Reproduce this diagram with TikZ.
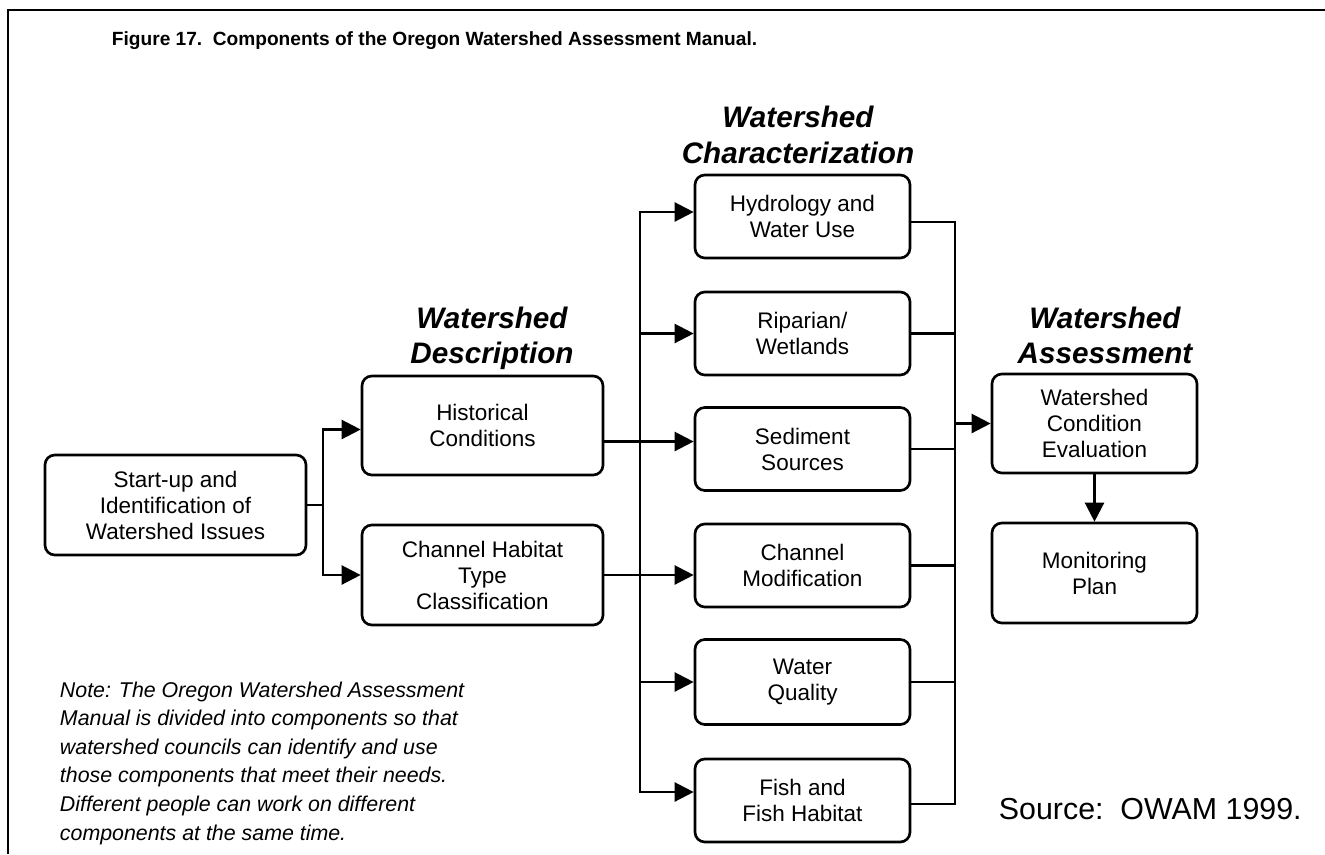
\documentclass[tikz,border=0pt]{standalone}
\usepackage{fontspec}
\setmainfont{Liberation Sans}
\usepackage{tikz}
\usetikzlibrary{arrows.meta,calc}

\begin{document}
\begin{tikzpicture}[
  compbox/.style={draw=black, line width=1.9pt, rounded corners=7pt, align=center, inner sep=0pt, font=\fontsize{16}{18.5}\selectfont},
  headtxt/.style={align=center, anchor=base, font=\fontsize{21.1}{24.9}\selectfont\bfseries\itshape},
  flowline/.style={black, line width=1.7pt, line cap=rect},
  flowarr/.style={black, line width=1.7pt, -{Triangle[length=13.5pt,width=13.5pt]}}]
\useasboundingbox (0cm,0cm) rectangle (33.125cm,-21.35cm);
\draw[black, line width=2pt] (0.2cm,-21.35cm) -- (0.2cm,-0.25cm) -- (33.125cm,-0.25cm);
\node[anchor=base west, font=\fontsize{13.6}{16}\selectfont\bfseries] (title) at (2.675cm,-1.125cm) {Figure 17.\ \ Components of the Oregon Watershed Assessment Manual.};
\node[headtxt] (deschead) at (12.3cm,-9.075cm) {Watershed\\Description};
\node[headtxt] (charhead) at (19.95cm,-4.075cm) {Watershed\\Characterization};
\node[headtxt] (assesshead) at (27.625cm,-9.075cm) {Watershed\\Assessment};
\node[compbox, minimum width=6.525cm, minimum height=2.5cm] (start) at (4.3875cm,-12.625cm) {Start-up and\\Identification of\\Watershed Issues};
\node[compbox, minimum width=6.025cm, minimum height=2.475cm] (hist) at (12.0625cm,-10.6375cm) {Historical\\Conditions};
\node[compbox, minimum width=6.025cm, minimum height=2.5cm] (chhab) at (12.0625cm,-14.375cm) {Channel Habitat\\Type\\Classification};
\node[compbox, minimum width=5.375cm, minimum height=2.075cm] (hydro) at (20.0625cm,-5.4125cm) {Hydrology and\\Water Use};
\node[compbox, minimum width=5.375cm, minimum height=2.075cm] (ripar) at (20.0625cm,-8.3375cm) {Riparian/\\Wetlands};
\node[compbox, minimum width=5.375cm, minimum height=2.075cm] (sedim) at (20.0625cm,-11.225cm) {Sediment\\Sources};
\node[compbox, minimum width=5.375cm, minimum height=2.075cm] (chmod) at (20.0625cm,-14.1375cm) {Channel\\Modification};
\node[compbox, minimum width=5.375cm, minimum height=2.125cm] (wqual) at (20.0625cm,-17.05cm) {Water\\Quality};
\node[compbox, minimum width=5.375cm, minimum height=2.075cm] (fish) at (20.0625cm,-20.0125cm) {Fish and\\Fish Habitat};
\node[compbox, minimum width=5.125cm, minimum height=2.475cm] (wce) at (27.3625cm,-10.5875cm) {Watershed\\Condition\\Evaluation};
\node[compbox, minimum width=5.125cm, minimum height=2.5cm] (mon) at (27.3625cm,-14.325cm) {Monitoring\\Plan};
\node[anchor=base west, align=left, font=\fontsize{15.2}{20.3}\selectfont\itshape] (note) at (1.375cm,-21.0cm) {Note: The Oregon Watershed Assessment\\Manual is divided into components so that\\watershed councils can identify and use\\those components that meet their needs.\\Different people can work on different\\components at the same time.};
\node[anchor=base west, font=\fontsize{21.6}{25}\selectfont] (source) at (24.85cm,-20.475cm) {Source:\ \ OWAM 1999.};
\coordinate (jn) at (8.075cm,-12.625cm);
\draw[flowline] (start.east) -- (jn);
\draw[flowarr] (jn) |- ([yshift=-0.1cm]hist.west);
\draw[flowarr] (jn) |- (chhab.west);
\coordinate (dtop) at (16cm,-5.3cm);
\coordinate (dbot) at (16cm,-19.8cm);
\draw[flowline] (dtop) -- (dbot);
\draw[flowarr] (dtop) -- (dtop -| hydro.west);
\draw[flowarr] (dtop |- ripar.west) -- (ripar.west);
\draw[flowarr] ([yshift=-0.4cm]hist.east) -- ([yshift=-0.4cm]hist.east -| sedim.west);
\draw[flowarr] (chhab.east) -- (chhab.east -| chmod.west);
\draw[flowarr] (dtop |- wqual.west) -- (wqual.west);
\draw[flowarr] (dbot) -- (dbot -| fish.west);
\coordinate (ctop) at (23.875cm,-5.55cm);
\coordinate (cbot) at (23.875cm,-20.1cm);
\draw[flowline] (hydro.east |- ctop) -- (ctop) -- (cbot) -- (fish.east |- cbot);
\draw[flowline] (ripar.east) -- (ripar.east -| ctop);
\draw[flowline] (sedim.east) -- (sedim.east -| ctop);
\draw[flowline] (chmod.east) -- (chmod.east -| ctop);
\draw[flowline] (wqual.east) -- (wqual.east -| ctop);
\draw[flowarr] (wce.west -| ctop) -- (wce.west);
\draw[flowarr] (wce.south) -- (mon.north);
\end{tikzpicture}
\end{document}
